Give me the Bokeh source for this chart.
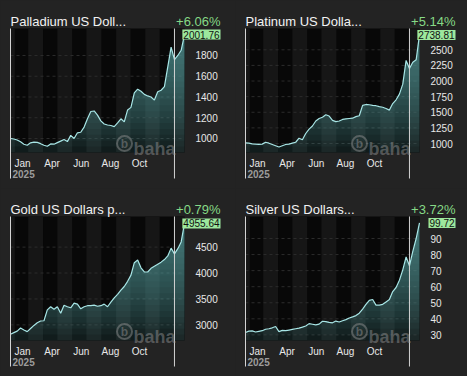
import numpy as np
import pandas as pd
from bokeh.plotting import figure
from bokeh.models import (ColumnDataSource, FixedTicker, Label, BoxAnnotation, Range1d)
from bokeh.layouts import row, column
from bokeh.embed import file_html
from bokeh.resources import INLINE

# ---------------- data ----------------
dates = pd.date_range("2025-01-23", periods=53, freq="7D")

palladium = [1000, 995, 985, 968, 945, 935, 958, 965, 962, 950, 935, 925, 948, 945, 960, 975,
             990, 970, 1030, 1000, 1055, 1060, 1110, 1190, 1260, 1265, 1225, 1170, 1140, 1130,
             1125, 1115, 1150, 1190, 1160, 1275, 1300, 1440, 1475, 1455, 1425, 1410, 1400, 1370,
             1450, 1465, 1500, 1690, 1880, 1760, 1800, 1850, 2001.76]
platinum = [1010, 1005, 995, 990, 985, 990, 1020, 1005, 985, 965, 945, 965, 985, 990, 1005, 1020,
            1085, 1060, 1160, 1230, 1280, 1360, 1400, 1420, 1460, 1440, 1370, 1350, 1360, 1385,
            1395, 1400, 1405, 1430, 1445, 1610, 1625, 1620, 1610, 1605, 1590, 1580, 1560, 1535,
            1640, 1700, 1790, 1950, 2330, 2200, 2300, 2340, 2738.81]
gold = [2820, 2850, 2880, 2940, 2900, 2870, 2930, 2990, 3040, 3075, 3080, 3290, 3350, 3300, 3350,
        3225, 3380, 3350, 3330, 3420, 3400, 3310, 3350, 3370, 3370, 3380, 3360, 3370, 3400, 3350,
        3440, 3520, 3590, 3670, 3740, 3840, 3960, 4200, 4250, 4100, 4020, 4020, 4090, 4130, 4170,
        4210, 4260, 4330, 4480, 4370, 4470, 4600, 4955.64]
silver = [31.5, 32.3, 32.5, 31.8, 32.2, 32.6, 33.5, 33.8, 34.4, 35.2, 32.0, 32.8, 32.6, 33.0, 33.4,
          33.8, 34.2, 34.8, 35.5, 37.0, 36.6, 36.2, 36.7, 38.5, 38.3, 37.8, 37.5, 38.6, 38.0, 38.8,
          39.5, 40.5, 41.2, 42.0, 43.5, 46.0, 49.0, 51.5, 52.0, 48.5, 48.5, 49.0, 50.5, 52.0, 57.0,
          59.5, 64.0, 70.5, 78.5, 73.0, 82.0, 90.0, 99.72]

titles = ["Palladium US Doll...", "Platinum US Dolla...", "Gold US Dollars p...", "Silver US Dollars..."]
changes = ["+6.06%", "+5.14%", "+0.79%", "+3.72%"]
last_labels = ["2001.76", "2738.81", "4955.64", "99.72"]
series = [palladium, platinum, gold, silver]
y_ticks = [[1000, 1200, 1400, 1600, 1800],
           [1000, 1250, 1500, 1750, 2000, 2250, 2500],
           [3000, 3500, 4000, 4500],
           [30, 40, 50, 60, 70, 80, 90]]
y_ranges = [(865, 2060), (856, 2841), (2699, 5090), (26.5, 103.7)]

month_labels = ["Jan", "Apr", "Jun", "Aug", "Oct"]
month_anchor = ["2025-01-29", "2025-04-01", "2025-06-01", "2025-08-01", "2025-10-01"]
year_label = "2025"
year_mark = "2026-01-01"
band_starts = ["2025-01-01", "2025-03-01", "2025-05-01", "2025-07-01", "2025-09-01", "2025-11-01", "2026-01-01"]
band_ends = ["2025-02-01", "2025-04-01", "2025-06-01", "2025-08-01", "2025-10-01", "2025-12-01", "2026-02-01"]


def ms(d):
    return float(pd.Timestamp(d).value // 10**6)


x = np.array([ms(d) for d in dates])
FONT = "Liberation Sans"
BG = "#232323"
H = 188
PL, PR, PT, PB = 10, 184, 28, 152   # plot-area box inside each panel (pixels)


def make_panel(i, W):
    v = np.array(series[i], dtype=float)
    y0, y1 = y_ranges[i]
    xa0, xa1 = x[0], x[-1]
    dx = (xa1 - xa0) / (PR - PL)
    dy = (y1 - y0) / (PB - PT)
    xr = Range1d(xa0 - dx * PL, xa1 + dx * (W - PR))
    yr = Range1d(y0 - dy * (H - PB), y1 + dy * PT)
    p = figure(width=W, height=H, min_border=0, x_axis_type="datetime",
               y_axis_location="right", x_range=xr, y_range=yr,
               output_backend="svg", toolbar_location=None,
               background_fill_color=BG, border_fill_color=BG, outline_line_color=None)

    # plot area + month bands
    p.add_layout(BoxAnnotation(left=xa0, right=xa1, bottom=y0, top=y1, fill_color="#080808",
                               fill_alpha=1.0, line_color=None, level="underlay"))
    for s, e in zip(band_starts, band_ends):
        p.add_layout(BoxAnnotation(left=max(ms(s), xa0), right=min(ms(e), xa1), bottom=y0, top=y1,
                                   fill_color="#161616", fill_alpha=1.0, line_color=None,
                                   level="underlay"))

    # grid lines
    yt = np.array(y_ticks[i], dtype=float)
    p.segment(x0=np.full_like(yt, xa0), y0=yt, x1=np.full_like(yt, xa1), y1=yt,
              line_color="#2c2c2c", line_dash="3 3", line_width=1)

    # gradient fill
    levels = np.linspace(y0, y1, 22)
    data = {"x": x}
    for k, L in enumerate(levels):
        data[f"a{k}"] = np.full_like(v, L)
        data[f"b{k}"] = np.maximum(v, L)
    data["base"] = np.full_like(v, y0)
    data["v"] = v
    src = ColumnDataSource(data)
    p.varea(x="x", y1="base", y2="v", source=src, fill_color="#3f8a8a", fill_alpha=0.10)
    for k in range(len(levels)):
        p.varea(x="x", y1=f"a{k}", y2=f"b{k}", source=src, fill_color="#62b8b8", fill_alpha=0.05)
    p.line(x="x", y="v", source=src, line_color="#a8e6e6", line_width=1.2)

    # vertical markers (extend below the plot area)
    ext = y0 - dy * 26
    xm = np.array([xa0, ms(year_mark)])
    p.segment(x0=xm, y0=np.full(2, y1), x1=xm, y1=np.full(2, ext),
              line_color="#d4d4d4", line_width=1)

    # axes (labels pulled into the panel)
    ya = p.yaxis[0]
    ya.ticker = FixedTicker(ticks=y_ticks[i])
    ya.major_label_text_color = "#e8e8e8"
    ya.major_label_text_font = FONT
    ya.major_label_text_font_size = "10px"
    ya.axis_line_color = None
    ya.major_tick_line_color = None
    ya.minor_tick_line_color = None
    ya.major_label_standoff = -(W - PR - 5)

    xt = [ms(a) + 19 * 86400000.0 for a in month_anchor]
    xa = p.xaxis[0]
    xa.ticker = FixedTicker(ticks=xt)
    xa.major_label_overrides = {t: lab for t, lab in zip(xt, month_labels)}
    xa.major_label_text_color = "#e8e8e8"
    xa.major_label_text_font = FONT
    xa.major_label_text_font_size = "10px"
    xa.axis_line_color = None
    xa.major_tick_line_color = None
    xa.minor_tick_line_color = None
    xa.major_label_standoff = -(H - PB + 1)

    p.xgrid.visible = False
    p.ygrid.visible = False

    # title and change
    p.add_layout(Label(x=xa0, y=y1, x_offset=0, y_offset=7, text=titles[i],
                       text_baseline="alphabetic", text_align="left", text_font=FONT,
                       text_font_size="13px", text_color="#f2f2f2"))
    p.add_layout(Label(x=xa1, y=y1, x_offset=36, y_offset=7, text=changes[i],
                       text_baseline="alphabetic", text_align="right", text_font=FONT,
                       text_font_size="13px", text_color="#86d986"))
    # year label
    p.add_layout(Label(x=xa0, y=y0, x_offset=2, y_offset=-17, text=year_label,
                       text_baseline="top", text_align="left", text_font=FONT,
                       text_font_size="10px", text_font_style="bold", text_color="#9c9c9c"))
    # last value box
    p.add_layout(Label(x=xa1, y=v[-1], x_offset=36, text=last_labels[i],
                       text_baseline="middle", text_align="right", text_font=FONT,
                       text_font_size="10px", text_color="#111111",
                       background_fill_color="#9de89d", padding=1))
    # watermark
    p.add_layout(Label(x=xa1, y=y0, x_offset=-9, y_offset=4, text="baha",
                       text_baseline="alphabetic", text_align="right", text_font=FONT,
                       text_font_size="18px", text_font_style="bold", text_color="#9a9a9a",
                       text_alpha=0.45))
    p.scatter(x=[xa1 - 60 * dx], y=[y0 + 9 * dy], marker="circle", size=15,
              fill_color=None, line_color="#9a9a9a", line_alpha=0.45, line_width=2)
    p.add_layout(Label(x=xa1, y=y0, x_offset=-60, y_offset=9, text="b",
                       text_baseline="middle", text_align="center", text_font=FONT,
                       text_font_size="12px", text_font_style="bold", text_color="#9a9a9a",
                       text_alpha=0.45))
    return p


p1 = make_panel(0, 235)
p2 = make_panel(1, 232)
p3 = make_panel(2, 235)
p4 = make_panel(3, 232)
layout = column(row(p1, p2, spacing=0), row(p3, p4, spacing=0), spacing=0,
                styles={"background-color": BG})

open("out.html", "w").write(file_html(layout, INLINE))
